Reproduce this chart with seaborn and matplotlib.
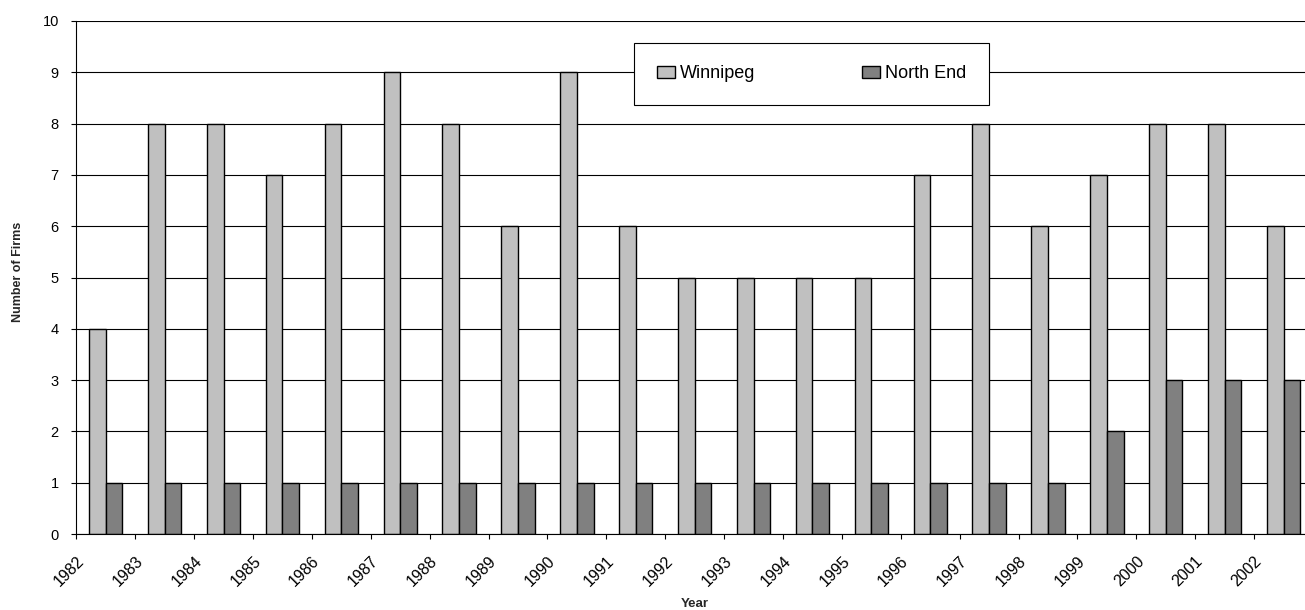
import matplotlib
matplotlib.use("Agg")
import matplotlib.pyplot as plt
import seaborn as sns
import pandas as pd

# Number of firms per year, Winnipeg vs. North End
years = ["1982", "1983", "1984", "1985", "1986", "1987", "1988", "1989", "1990",
         "1991", "1992", "1993", "1994", "1995", "1996", "1997", "1998", "1999",
         "2000", "2001", "2002"]
winnipeg = [4, 8, 8, 7, 8, 9, 8, 6, 9, 6, 5, 5, 5, 5, 7, 8, 6, 7, 8, 8, 6]
north_end = [1, 1, 1, 1, 1, 1, 1, 1, 1, 1, 1, 1, 1, 1, 1, 1, 1, 2, 3, 3, 3]
series_names = ["Winnipeg", "North End"]
y_ticks = [0, 1, 2, 3, 4, 5, 6, 7, 8, 9, 10]

df = pd.DataFrame({
    "Year": years + years,
    "Firms": winnipeg + north_end,
    "Area": [series_names[0]] * len(years) + [series_names[1]] * len(years),
})

sns.set_theme(style="white")
plt.rcParams["font.family"] = ["Liberation Sans", "DejaVu Sans"]

W, H = 1305, 610
fig = plt.figure(figsize=(W / 100, H / 100), dpi=100)
left_px, right_px, top_px, bottom_px = 76.3, 1313.0, 21.0, 534.0
ax = fig.add_axes([left_px / W, 1 - bottom_px / H,
                   (right_px - left_px) / W, (bottom_px - top_px) / H])

sns.barplot(data=df, x="Year", y="Firms", hue="Area", order=years,
            hue_order=series_names, palette=["#C0C0C0", "#808080"],
            saturation=1, width=0.566, edgecolor="black", linewidth=1.0,
            ax=ax)

handles, labels = ax.get_legend_handles_labels()
ax.get_legend().remove()

ax.set_xlim(-0.5, len(years) - 0.5)
ax.set_ylim(0, 10)
ax.set_yticks(y_ticks)
ax.set_yticklabels([str(v) for v in y_ticks], fontsize=10.5, color="black")

# category labels sit on the boundary ticks
ax.set_xticks([i - 0.5 for i in range(len(years))])
ax.set_xticklabels(years, rotation=45, ha="right", va="top",
                   rotation_mode="anchor", fontsize=11.5, color="black")

ax.tick_params(axis="x", direction="out", length=3.6, width=0.8,
               color="black", pad=10.5, bottom=True)
ax.tick_params(axis="y", direction="out", length=3.6, width=0.8,
               color="black", pad=9, left=True)

ax.yaxis.grid(True, color="black", linewidth=0.8)
ax.xaxis.grid(False)
ax.set_axisbelow(True)
for side in ["top", "right"]:
    ax.spines[side].set_visible(False)
for side in ["left", "bottom"]:
    ax.spines[side].set_color("black")
    ax.spines[side].set_linewidth(0.8)

ax.set_xlabel("")
ax.set_ylabel("")
fig.text(694.5 / W, 1 - 604 / H, "Year", ha="center", va="center",
         fontsize=9.5, fontweight="bold")
fig.text(18 / W, 1 - 272 / H, "Number of Firms", ha="center", va="center",
         rotation=90, fontsize=9, fontweight="bold")

leg = fig.legend(handles, labels, loc="center",
                 bbox_to_anchor=(634 / W, 1 - 105 / H, 355 / W, 62 / H),
                 mode="expand", ncol=2, frameon=True, fancybox=False,
                 edgecolor="black", facecolor="white", framealpha=1,
                 fontsize=13, handlelength=1.0, handleheight=0.6,
                 handletextpad=0.3, borderpad=1.25, borderaxespad=0)
leg.get_frame().set_linewidth(0.8)
for t in leg.get_texts():
    t.set_color("black")

fig.savefig("out.png", dpi=100, facecolor="white")
